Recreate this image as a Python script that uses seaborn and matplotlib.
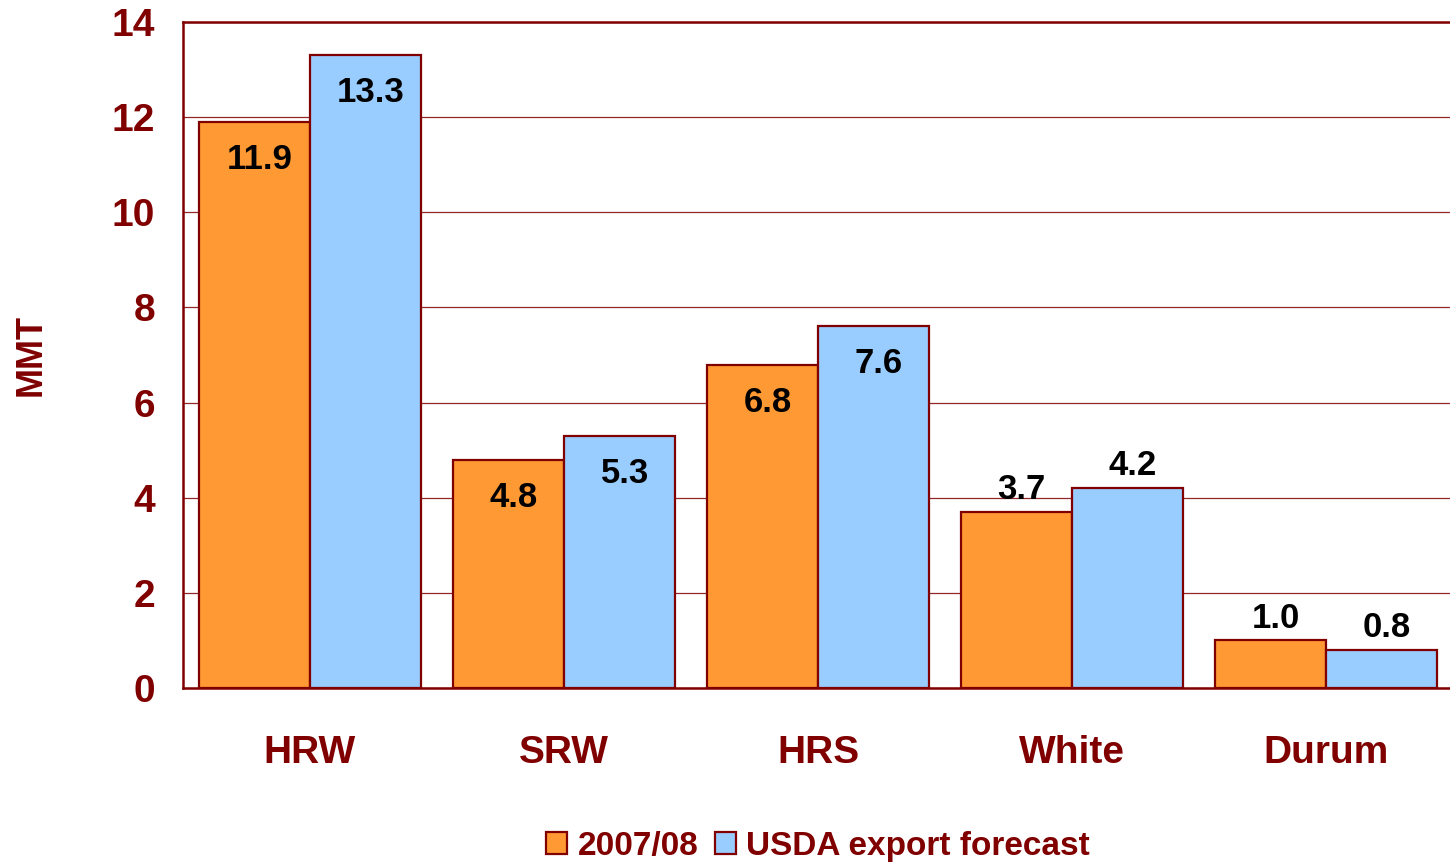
import pandas as pd
import matplotlib
matplotlib.use('Agg')
import matplotlib.pyplot as plt
import seaborn as sns

# data
classes = ['HRW', 'SRW', 'HRS', 'White', 'Durum']
exports_2007 = [11.9, 4.8, 6.8, 3.7, 1.0]
usda_forecast = [13.3, 5.3, 7.6, 4.2, 0.8]
series_names = ['2007/08', 'USDA export forecast']
y_ticks = [0, 2, 4, 6, 8, 10, 12, 14]

df = pd.DataFrame({
    'cls': classes * 2,
    'mmt': exports_2007 + usda_forecast,
    'series': [series_names[0]] * 5 + [series_names[1]] * 5,
})

sns.set_style('white')
plt.rcParams['font.family'] = ['Liberation Sans', 'DejaVu Sans']
plt.rcParams['font.weight'] = 'bold'

dark_red = '#800000'
fig = plt.figure(figsize=(14.5, 8.64), dpi=100)
ax = fig.add_axes([183 / 1450, 1 - 688 / 864, 1270 / 1450, (688 - 22) / 864])

sns.barplot(data=df, x='cls', y='mmt', hue='series', palette=['#FF9933', '#99CCFF'],
            saturation=1, width=0.875, edgecolor=dark_red, linewidth=1.6, ax=ax, zorder=3)

ax.set_ylim(0, 14)
ax.set_xlim(-0.5, 4.5)
ax.set_yticks(y_ticks)
ax.yaxis.grid(True, color=dark_red, linewidth=0.9, alpha=0.85, zorder=0)
ax.set_axisbelow(True)
for side in ['left', 'top', 'bottom']:
    ax.spines[side].set_color(dark_red)
    ax.spines[side].set_linewidth(1.8)
ax.spines['right'].set_visible(False)

ax.tick_params(axis='y', length=0, pad=20, labelsize=28, labelcolor=dark_red)
ax.tick_params(axis='x', length=0, pad=34, labelsize=28, labelcolor=dark_red)
ax.set_xlabel('')
ax.set_ylabel('MMT', fontsize=26, color=dark_red, fontweight='bold')
ax.yaxis.set_label_coords(-0.106, 0.5)

# value labels: inside near top for tall bars, above the bar for short ones
for container in ax.containers:
    for bar in container:
        h = bar.get_height()
        cx = bar.get_x() + bar.get_width() / 2 + 0.02
        if h > 4.5:
            ax.annotate(f'{h:.1f}', (cx, h), xytext=(0, -27), textcoords='offset points',
                        ha='center', va='center', fontsize=25, fontweight='bold', color='black')
        else:
            ax.annotate(f'{h:.1f}', (cx, h), xytext=(0, 16), textcoords='offset points',
                        ha='center', va='center', fontsize=25, fontweight='bold', color='black')

handles, labels = ax.get_legend_handles_labels()
ax.legend(handles, labels, loc='center', bbox_to_anchor=(0.5, -0.238), ncol=2,
          frameon=False, fontsize=24, labelcolor=dark_red, handlelength=0.65,
          handleheight=0.65, handletextpad=0.3, columnspacing=0.5)

fig.savefig('out.png', dpi=100)
